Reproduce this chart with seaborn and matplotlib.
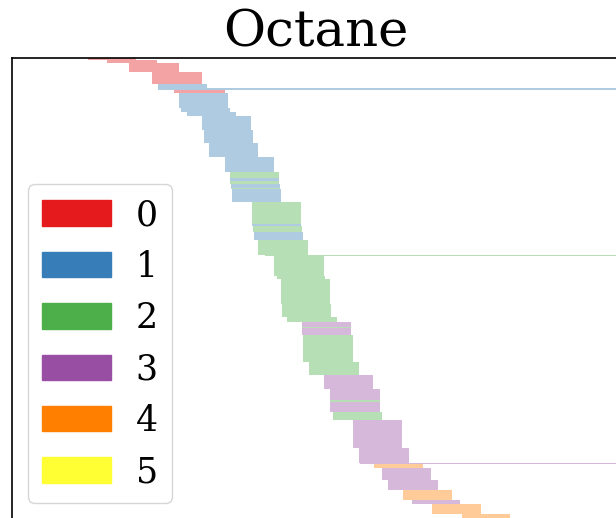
import matplotlib
matplotlib.use("Agg")
import matplotlib.pyplot as plt
import matplotlib.patches as mpatches
import numpy as np
import seaborn as sns

sns.set_style("white")
plt.rcParams["font.family"] = ["DejaVu Serif"]
plt.rcParams["text.color"] = "black"

# Blocks of consecutive samples (top to bottom): row count, start position, cluster label
block_counts = [1, 2, 6, 7, 3, 1, 2, 9, 3, 2,
                9, 8, 9, 9, 4, 2, 2, 2, 1, 8,
                14, 1, 4, 5, 9, 1, 12, 2, 16, 8,
                3, 3, 1, 4, 17, 8, 9, 7, 1, 6,
                5, 18, 9, 1, 2, 8, 6, 6, 3, 6, 4]
block_starts = [88, 107, 129, 152, 158, 158, 174, 179, 181, 187,
                202, 204, 209, 225, 230, 230, 230, 231, 231, 232,
                252, 252, 253, 254, 258, 265, 274, 277, 281, 282,
                287, 302, 302, 302, 303, 309, 324, 330, 330, 330,
                333, 353, 359, 360, 374, 382, 388, 403, 412, 432, 462]
block_lengths = [48, 50, 50, 50, 49, 500, 51, 49, 49, 49,
                 49, 49, 49, 49, 49, 49, 49, 49, 49, 49,
                 49, 49, 49, 49, 50, 500, 50, 48, 49, 49,
                 50, 49, 49, 49, 50, 50, 49, 50, 50, 50,
                 49, 49, 50, 500, 49, 49, 50, 49, 48, 49, 48]
block_labels = [0, 0, 0, 0, 1, 1, 0, 1, 1, 1,
                1, 1, 1, 1, 2, 1, 2, 1, 2, 1,
                2, 1, 2, 1, 2, 2, 2, 2, 2, 2,
                2, 3, 2, 3, 2, 2, 3, 3, 2, 3,
                2, 3, 3, 3, 4, 3, 3, 4, 3, 4, 4]
legend_labels = ["0", "1", "2", "3", "4", "5"]

palette = sns.color_palette("Set1", 6)

# expand blocks into one bar per sample
ys, lefts, widths, cols = [], [], [], []
row = 0
for n, s, w, c in zip(block_counts, block_starts, block_lengths, block_labels):
    for _ in range(n):
        ys.append(row)
        lefts.append(s)
        widths.append(w)
        cols.append(palette[c])
        row += 1

W, H = 616, 518
fig = plt.figure(figsize=(W / 100, H / 100), dpi=100)
pitch = 1.6
ax_top, ax_bot, ax_left, ax_right = 58, 530, 12, 620
ax = fig.add_axes([ax_left / W, 1 - ax_bot / H, (ax_right - ax_left) / W, (ax_bot - ax_top) / H])

ax.barh(ys, widths, left=lefts, height=0.95, color=cols, alpha=0.4, linewidth=0)

ax.set_xlim(ax_left, ax_right)
ax.set_ylim((ax_bot - ax_top) / pitch - 0.5, -0.5)
ax.set_xticks([])
ax.set_yticks([])
for sp in ax.spines.values():
    sp.set_color("black")
    sp.set_linewidth(1.2)

ax.set_title("Octane", fontsize=37, pad=6, color="black")

handles = [mpatches.Patch(color=palette[i], label=legend_labels[i]) for i in range(6)]
leg = fig.legend(handles=handles, loc="lower left", bbox_to_anchor=(28 / W, 1 - 503 / H),
                 borderaxespad=0, fontsize=25, handlelength=2.0, handleheight=0.75,
                 labelspacing=0.5, handletextpad=0.7, frameon=True, fancybox=True,
                 borderpad=0.4)
for t in leg.get_texts():
    t.set_color("black")

fig.savefig("out.png", dpi=100)
